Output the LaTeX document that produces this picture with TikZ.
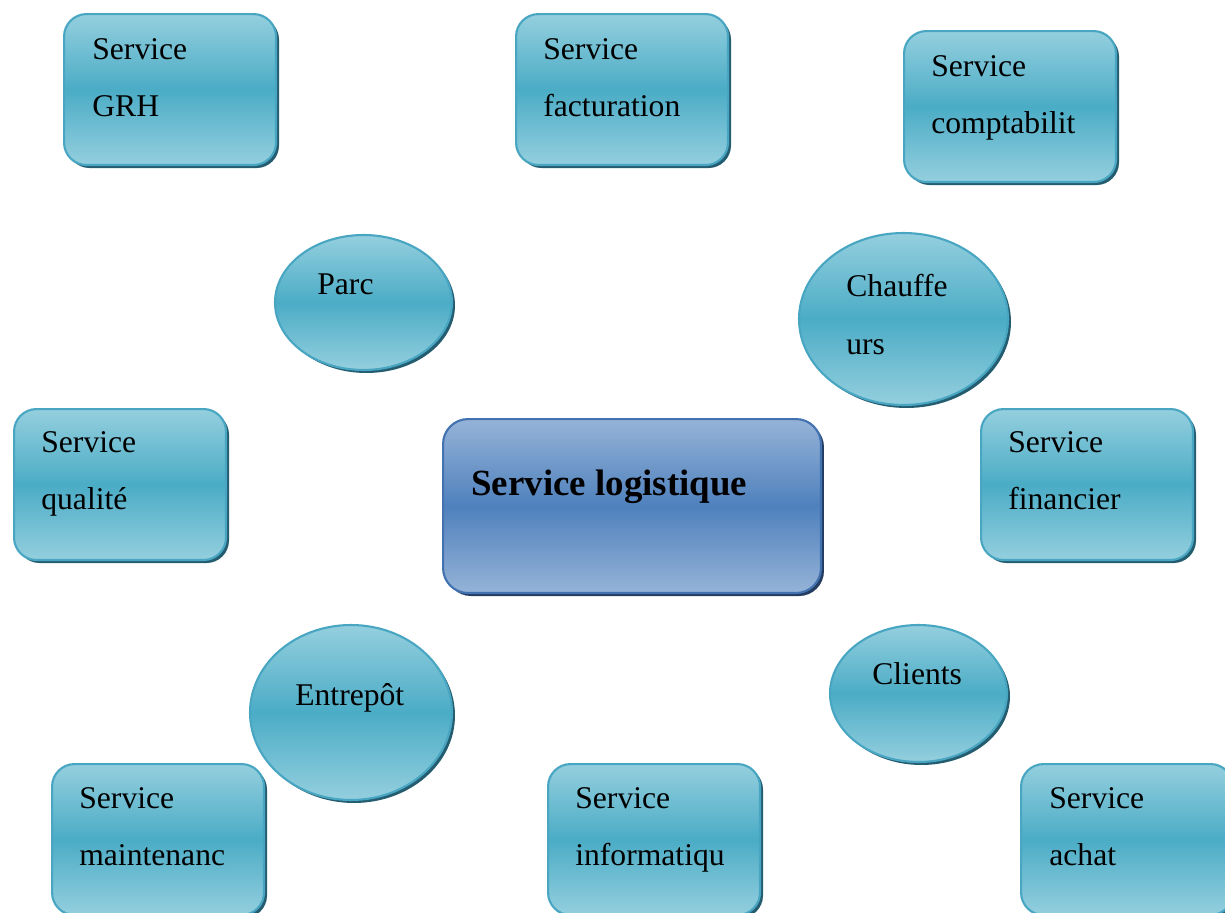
\documentclass[tikz,border=0pt]{standalone}
\usepackage{fontspec}
\setmainfont{Liberation Serif}
\usetikzlibrary{shapes.geometric,shadows}

\definecolor{teallight}{RGB}{148,207,222}
\definecolor{tealmid}{RGB}{75,172,198}
\definecolor{tealedge}{RGB}{72,166,194}
\definecolor{tealshadow}{RGB}{36,92,112}
\definecolor{bluelight}{RGB}{149,179,215}
\definecolor{bluemid}{RGB}{79,129,189}
\definecolor{blueedge}{RGB}{66,114,176}
\definecolor{blueshadow}{RGB}{36,60,96}

\tikzset{
  svc/.style={draw=tealedge, line width=1.2pt, rounded corners=0.45cm,
    top color=teallight, bottom color=teallight, middle color=tealmid,
    minimum width=4.24cm, minimum height=3.02cm, inner sep=0pt, anchor=north west,
    drop shadow={shadow xshift=0.06cm, shadow yshift=-0.06cm, fill=tealshadow, opacity=1}},
  pole/.style={ellipse, draw=tealedge, line width=1.2pt, inner sep=0pt,
    top color=teallight, bottom color=teallight, middle color=tealmid,
    drop shadow={shadow xshift=0.06cm, shadow yshift=-0.06cm, fill=tealshadow, opacity=1}},
  hub/.style={draw=blueedge, line width=1.2pt, rounded corners=0.5cm,
    top color=bluelight, bottom color=bluelight, middle color=bluemid,
    minimum width=7.56cm, minimum height=3.48cm, inner sep=0pt, anchor=north west,
    drop shadow={shadow xshift=0.06cm, shadow yshift=-0.06cm, fill=blueshadow, opacity=1}},
  lbl/.style={anchor=north west, inner sep=0pt, align=left,
    font=\fontsize{18}{32.8}\selectfont},
}

\begin{document}
\begin{tikzpicture}[x=0.02cm, y=-0.02cm]
    \useasboundingbox (0,0) rectangle (1225,913);

    % Service boxes
    \node[svc] (grh)     at (63,13)   {};
    \node[svc] (factu)   at (515,13)  {};
    \node[svc] (compta)  at (903,30)  {};
    \node[svc] (qualite) at (13,408)  {};
    \node[svc] (finance) at (980,408) {};
    \node[svc] (maint)   at (51,763)  {};
    \node[svc] (info)    at (547,763) {};
    \node[svc] (achat)   at (1020,763) {};

    % Ellipses
    \node[pole, minimum width=3.54cm, minimum height=2.70cm] (parc)     at (363.5,302.5) {};
    \node[pole, minimum width=4.18cm, minimum height=3.44cm] (chauf)    at (903.5,319)   {};
    \node[pole, minimum width=4.04cm, minimum height=3.50cm] (entrepot) at (351,712.5)   {};
    \node[pole, minimum width=3.54cm, minimum height=2.74cm] (clients)  at (918.5,693.5) {};

    % Central box
    \node[hub] (logis) at (442,418) {};

    % Labels
    \node[lbl] (grh-t)     at (92,38)    {Service\\GRH};
    \node[lbl] (factu-t)   at (543,38)   {Service\\facturation};
    \node[lbl] (compta-t)  at (931,55)   {Service\\comptabilit};
    \node[lbl] (qualite-t) at (41,431)   {Service\\qualité};
    \node[lbl] (finance-t) at (1008,431) {Service\\financier};
    \node[lbl] (maint-t)   at (79,787)   {Service\\maintenanc};
    \node[lbl] (info-t)    at (575,787)  {Service\\informatiqu};
    \node[lbl] (achat-t)   at (1049,787) {Service\\achat};
    \node[lbl] (parc-t)     at (317,273) {Parc};
    \node[lbl] (chauf-t)    at (846,274) {Chauffe\\urs};
    \node[lbl] (entrepot-t) at (295,683) {Entrepôt};
    \node[lbl] (clients-t)  at (872,662) {Clients};
    \node[lbl, font=\fontsize{21}{25}\bfseries\selectfont] (logis-t) at (471,470) {Service logistique};

\end{tikzpicture}
\end{document}
